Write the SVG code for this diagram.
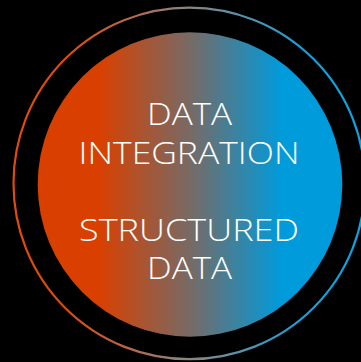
<svg xmlns="http://www.w3.org/2000/svg" width="361" height="362" viewBox="0 0 361 362">
  <defs>
    <linearGradient id="fillGrad" gradientUnits="userSpaceOnUse" x1="38" y1="0" x2="342" y2="0">
      <stop offset="0.2" stop-color="#d94000"/>
      <stop offset="0.5" stop-color="#776a65"/>
      <stop offset="0.8" stop-color="#009bdb"/>
    </linearGradient>
    <linearGradient id="ringGrad" gradientUnits="userSpaceOnUse" x1="13" y1="0" x2="365" y2="0">
      <stop offset="0.15" stop-color="#e04a0c"/>
      <stop offset="0.5" stop-color="#8c8583"/>
      <stop offset="0.85" stop-color="#0ea2de"/>
    </linearGradient>
    <style>
      .lbl { font-family: "Open Sans", "Liberation Sans", sans-serif; font-weight: 300; font-size: 31px; fill: #ffffff; text-anchor: middle; }
    </style>
  </defs>
  <rect x="0" y="0" width="361" height="362" fill="#000000"/>
  <g id="outer-ring">
    <circle cx="189.3" cy="183.4" r="175.8" fill="none" stroke="url(#ringGrad)" stroke-width="2.2"/>
  </g>
  <g id="core">
    <circle cx="190" cy="184.5" r="152.3" fill="url(#fillGrad)"/>
    <text class="lbl" x="189.5" y="125" textLength="85" lengthAdjust="spacingAndGlyphs">DATA</text>
    <text class="lbl" x="189" y="163.5" textLength="221" lengthAdjust="spacingAndGlyphs">INTEGRATION</text>
    <text class="lbl" x="189" y="240.5" textLength="220" lengthAdjust="spacingAndGlyphs">STRUCTURED</text>
    <text class="lbl" x="189.5" y="278.5" textLength="85" lengthAdjust="spacingAndGlyphs">DATA</text>
  </g>
</svg>
